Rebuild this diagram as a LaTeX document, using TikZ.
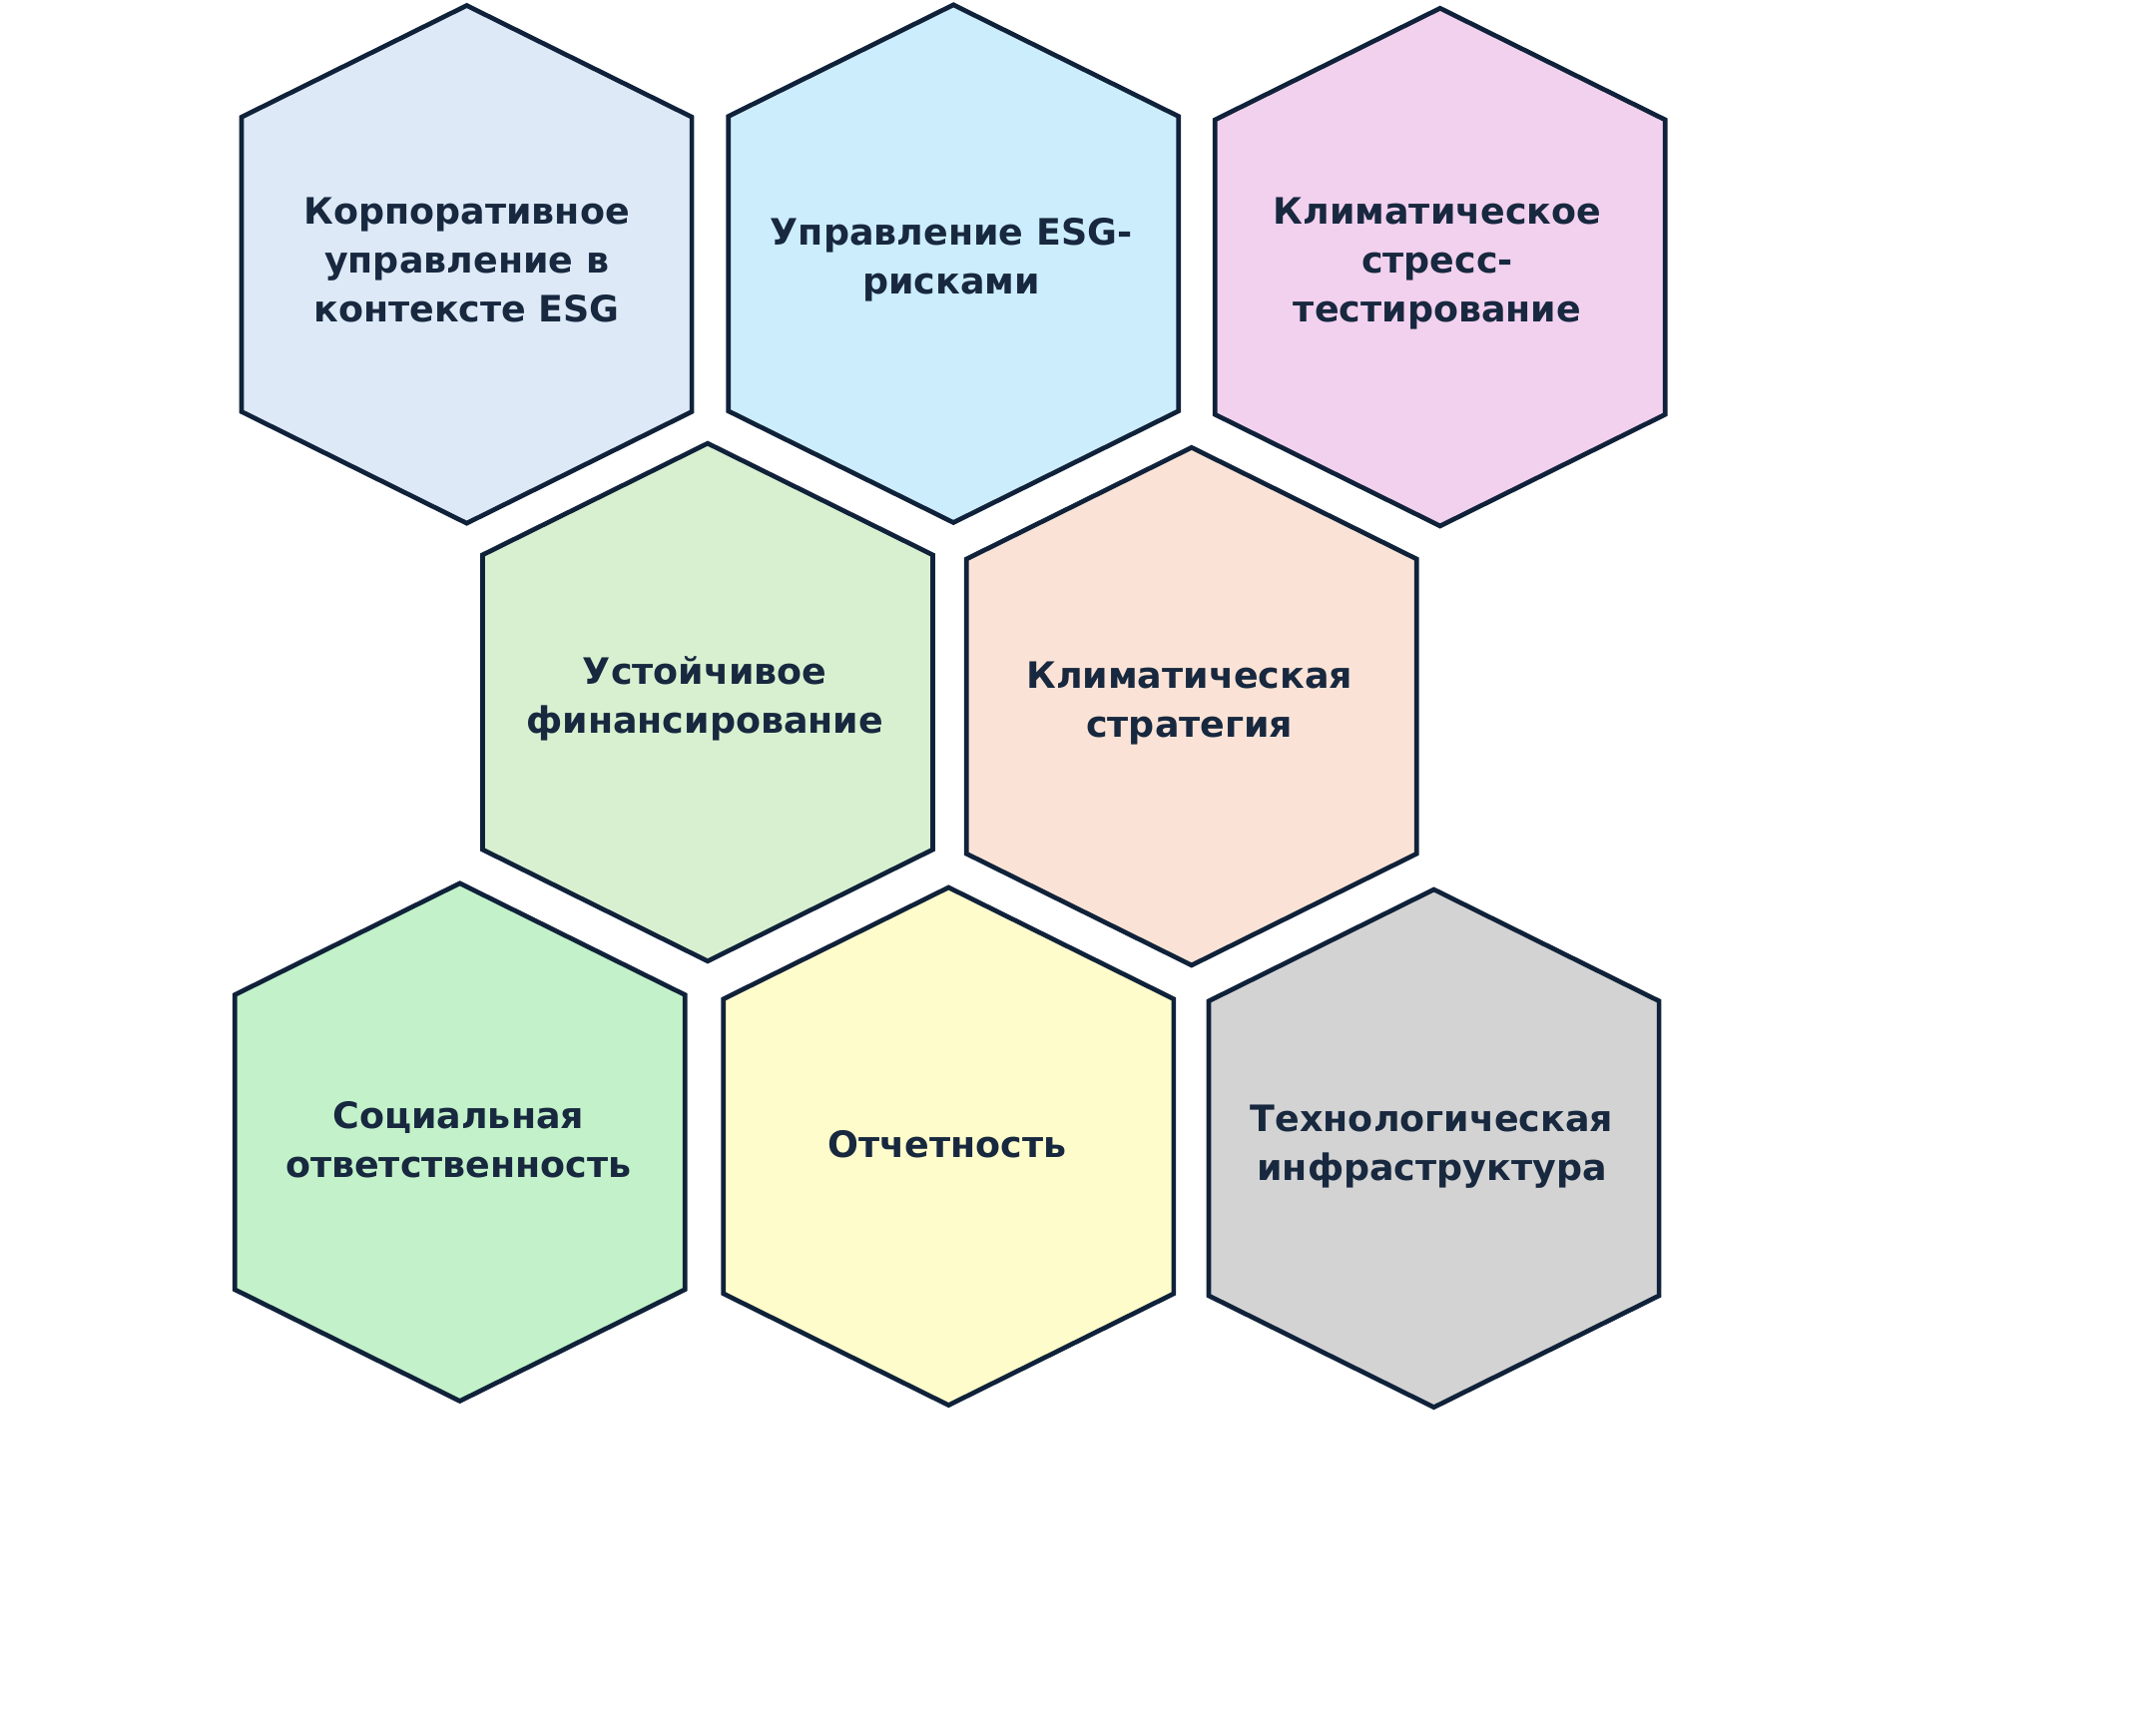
\documentclass[tikz,border=0pt]{standalone}
\usepackage{fontspec}
\usepackage{tikz}
\usetikzlibrary{positioning}
\newfontfamily\cellfont{DejaVu Sans}
\definecolor{edge}{HTML}{10223A}
\definecolor{ink}{HTML}{17283F}
\definecolor{corpfill}{HTML}{DDE9F7}
\definecolor{riskfill}{HTML}{CCEDFB}
\definecolor{stressfill}{HTML}{F2D1EE}
\definecolor{financefill}{HTML}{D9F0D0}
\definecolor{strategyfill}{HTML}{FAE3D6}
\definecolor{socialfill}{HTML}{C3F1C9}
\definecolor{reportfill}{HTML}{FEFCCB}
\definecolor{techfill}{HTML}{D3D3D3}
% one hexagon cell, drawn round the point before it
\newcommand{\hexoutline}{+(0,-188) -- +(163.5,-107) -- +(163.5,107) -- +(0,188) -- +(-163.5,107) -- +(-163.5,-107) -- cycle}

\begin{document}
\begin{tikzpicture}[
    x=0.5pt, y=-0.5pt,
    hexcell/.style={draw=edge, line width=1.7pt, line join=miter},
    celltext/.style={font=\cellfont\bfseries\fontsize{13.2}{17.75}\selectfont, text=ink, align=center, inner sep=0pt}
]
    \useasboundingbox (0,0) rectangle (1566,1258);

    % Hexagons
    \draw[hexcell, fill=corpfill] (339,192) \hexoutline;
    \draw[hexcell, fill=riskfill] (692.5,191.5) \hexoutline;
    \draw[hexcell, fill=stressfill] (1046,194) \hexoutline;
    \draw[hexcell, fill=financefill] (514,510) \hexoutline;
    \draw[hexcell, fill=strategyfill] (865.5,513) \hexoutline;
    \draw[hexcell, fill=socialfill] (334,829.5) \hexoutline;
    \draw[hexcell, fill=reportfill] (689,832.5) \hexoutline;
    \draw[hexcell, fill=techfill] (1041.5,834) \hexoutline;

    % Labels
    \node[celltext] (corp) at (339,189) {Корпоративное\\управление в\\контексте ESG};
    \node[celltext] (risk) at (691,189) {Управление ESG-\\рисками};
    \node[celltext] (stress) at (1044,191.5) {Климатическое\\стресс-\\тестирование};
    \node[celltext] (finance) at (512,507.5) {Устойчивое\\финансирование};
    \node[celltext] (strategy) at (864,510.5) {Климатическая\\стратегия};
    \node[celltext] (social) at (333,827.5) {Социальная\\ответственность};
    \node[celltext] (report) at (688,831) {Отчетность};
    \node[celltext] (tech) at (1040,832.5) {Технологическая\\инфраструктура};
\end{tikzpicture}
\end{document}
